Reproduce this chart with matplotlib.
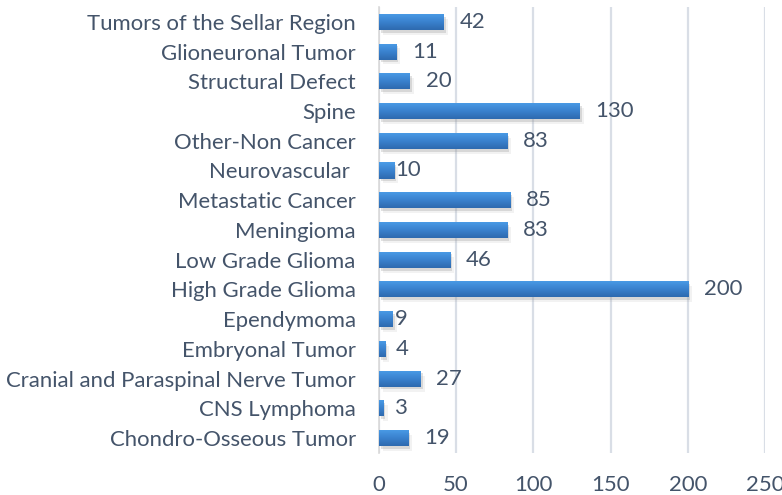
import matplotlib.pyplot as plt
import matplotlib.patheffects as pe
import numpy as np
from matplotlib.colors import LinearSegmentedColormap

# bottom to top, same as the spreadsheet order
categories = [
    "Chondro-Osseous Tumor",
    "CNS Lymphoma",
    "Cranial and Paraspinal Nerve Tumor",
    "Embryonal Tumor",
    "Ependymoma",
    "High Grade Glioma",
    "Low Grade Glioma",
    "Meningioma",
    "Metastatic Cancer",
    "Neurovascular ",
    "Other-Non Cancer",
    "Spine",
    "Structural Defect",
    "Glioneuronal Tumor",
    "Tumors of the Sellar Region",
]
counts = [19, 3, 27, 4, 9, 200, 46, 83, 85, 10, 83, 130, 20, 11, 42]

TEXT = "#44546A"
FS = 15.9
plt.rcParams["font.family"] = ["Lato", "DejaVu Sans"]

fig = plt.figure(figsize=(7.82, 4.95), dpi=100)
ax = fig.add_axes([0.4843, 0.0848, 0.9785 - 0.4843, 0.986 - 0.0848])

ypos = np.arange(len(categories))
bars = ax.barh(ypos, counts, height=0.54, color="#3D87D3", zorder=3)

grad = LinearSegmentedColormap.from_list("g", ["#4B9DE8", "#3A82CF", "#2E6AAF"])
shade = np.linspace(0, 1, 64).reshape(-1, 1)
for b in bars:
    # soft-ish drop shadow like the Excel preset
    b.set_path_effects([
        pe.SimplePatchShadow(offset=(3, -3.5), shadow_rgbFace="#9a9a9a", alpha=0.12),
        pe.SimplePatchShadow(offset=(1.5, -2), shadow_rgbFace="#8a8a8a", alpha=0.25),
        pe.Normal(),
    ])
    x0, y0 = b.get_x(), b.get_y()
    im = ax.imshow(shade, cmap=grad, aspect="auto", zorder=4,
                   extent=(x0, x0 + b.get_width(), y0, y0 + b.get_height()),
                   origin="upper")
    im.set_clip_path(b)

for y, v in zip(ypos, counts):
    if v <= 10:
        ax.text(10.7, y, str(v), ha="left", va="center", fontsize=FS, color=TEXT)
    else:
        ax.annotate(str(v), (v, y), xytext=(16, 0), textcoords="offset pixels",
                    ha="left", va="center", fontsize=FS, color=TEXT)

ax.set_xlim(0, 250)
ax.set_ylim(-0.5, len(categories) - 0.5)
ax.set_xticks(range(0, 251, 50))
ax.set_yticks(ypos)
ax.set_yticklabels(categories)
ax.tick_params(axis="both", length=0, labelsize=FS, labelcolor=TEXT)
ax.tick_params(axis="y", pad=16.5)
ax.tick_params(axis="x", pad=16)
ax.grid(axis="x", color="#D9DEE6", linewidth=1.6, zorder=0)
for s in ["top", "right", "bottom"]:
    ax.spines[s].set_visible(False)
ax.spines["left"].set_color("#D9D9D9")
ax.spines["left"].set_linewidth(1.2)

fig.savefig("out.png", dpi=100)
